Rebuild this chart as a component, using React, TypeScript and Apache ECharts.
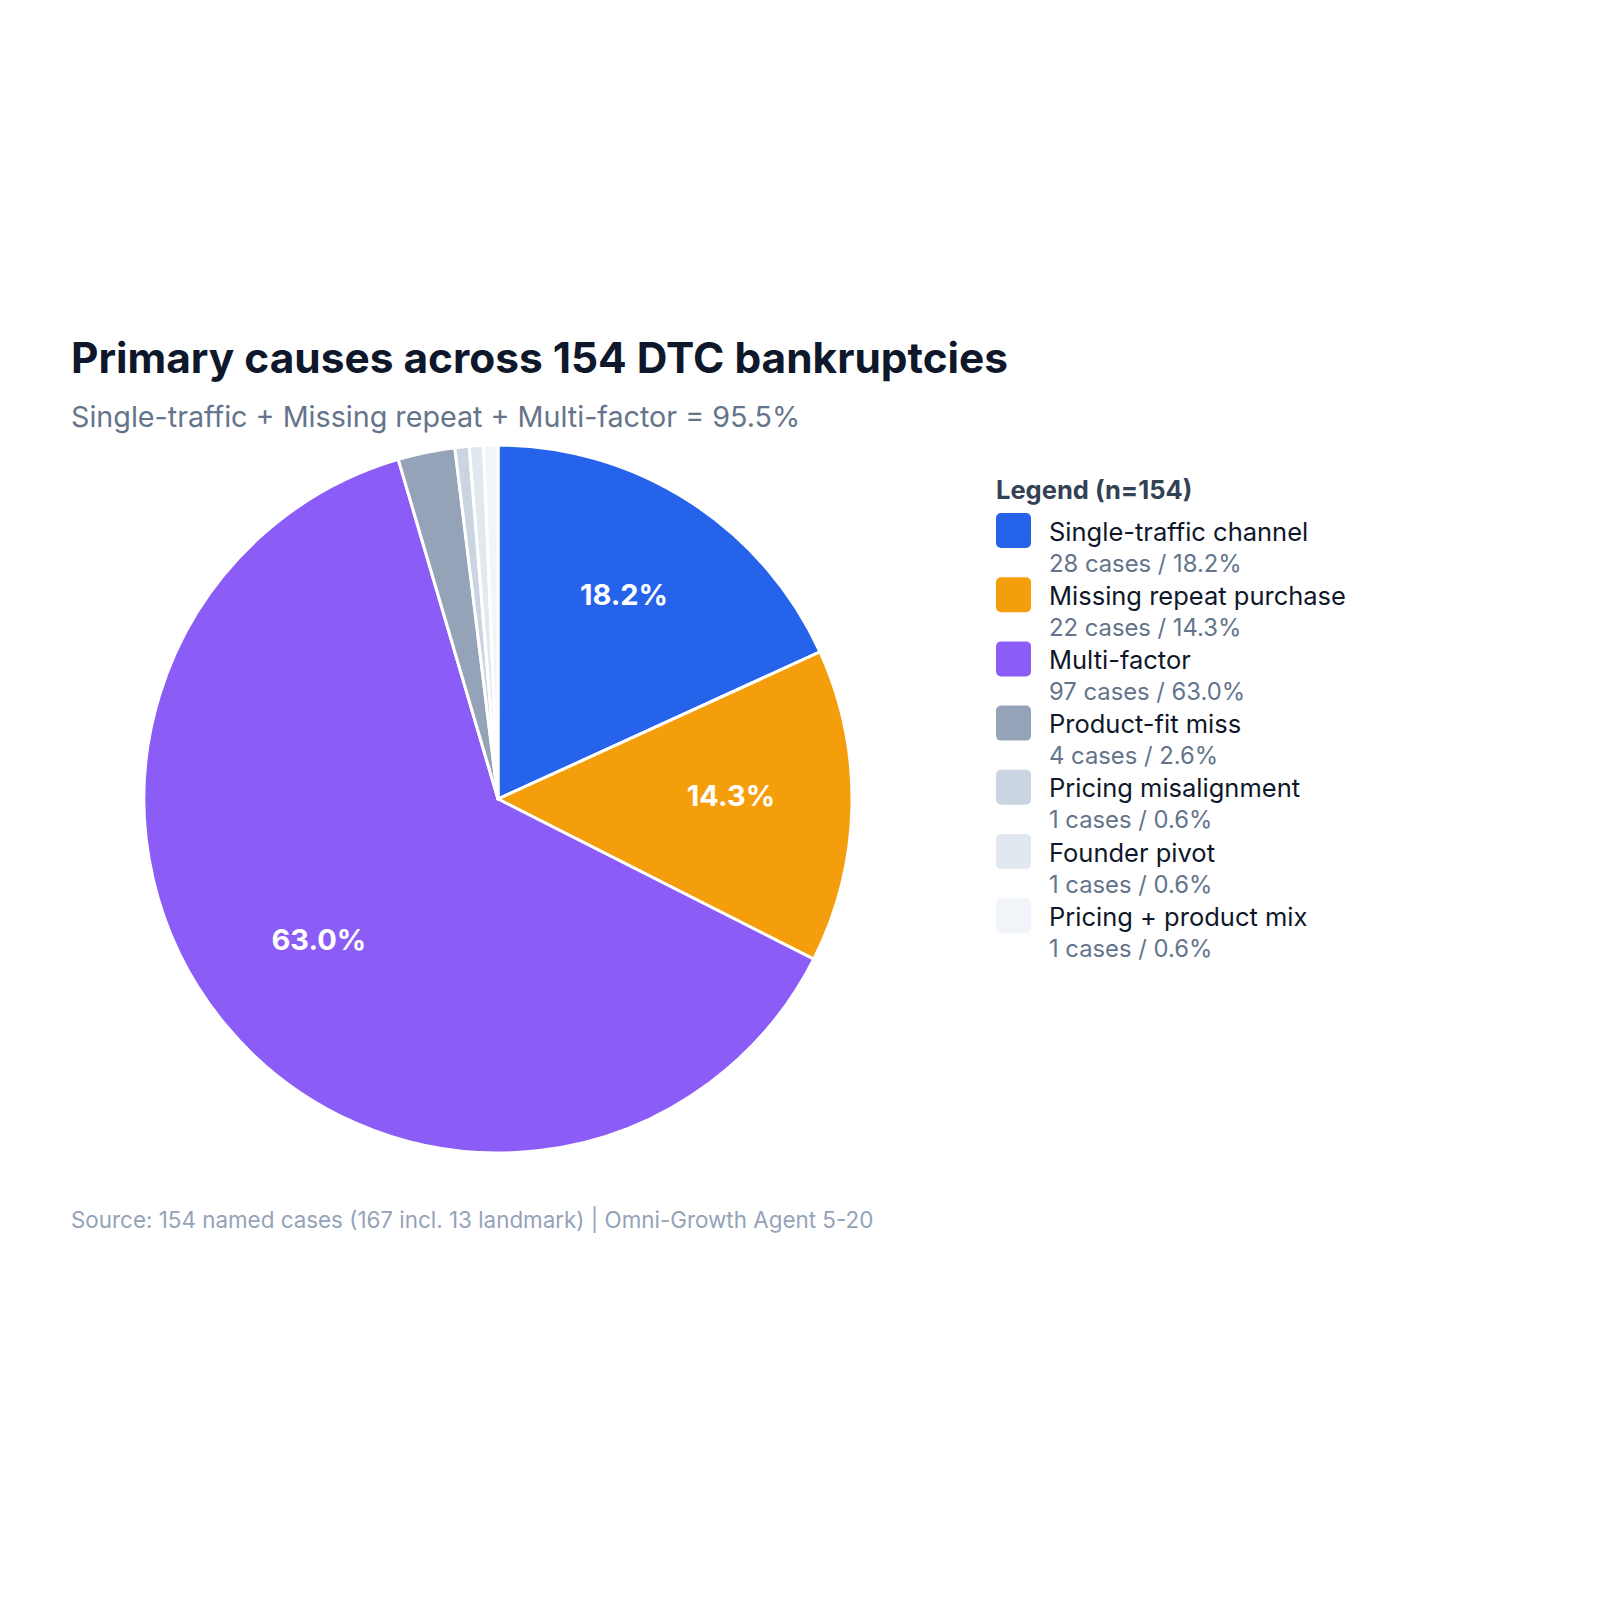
import React, { useEffect, useRef } from "react";
import * as echarts from "echarts";

const categories = [
  "Single-traffic channel",
  "Missing repeat purchase",
  "Multi-factor",
  "Product-fit miss",
  "Pricing misalignment",
  "Founder pivot",
  "Pricing + product mix",
];
const caseCounts = [28, 22, 97, 4, 1, 1, 1];
const colors = ["#2563eb", "#f59e0b", "#8b5cf6", "#94a3b8", "#cbd5e1", "#e2e8f0", "#f1f5f9"];
const totalCases = 154;

const titleText = "Primary causes across 154 DTC bankruptcies";
const subtitleText = "Single-traffic + Missing repeat + Multi-factor = 95.5%";
const legendTitle = "Legend (n=154)";
const sourceText = "Source: 154 named cases (167 incl. 13 landmark) | Omni-Growth Agent 5-20";

const FONT = "Inter, 'Noto Sans', sans-serif";

export default function App() {
  const ref = useRef<HTMLDivElement>(null);
  useEffect(() => {
    document.body.style.margin = "0";
    if (!ref.current) return;
    const chart = echarts.init(ref.current, undefined, { renderer: "svg" });
    const pct = (v: number) => ((v / totalCases) * 100).toFixed(1);

    const legendGraphics: any[] = [
      {
        type: "text",
        x: 996,
        y: 489,
        style: {
          text: legendTitle,
          font: `700 25.5px ${FONT}`,
          fill: "#334155",
          verticalAlign: "middle",
          align: "left",
        },
      },
    ];
    categories.forEach((c, i) => {
      const y = 513 + 64.2 * i;
      legendGraphics.push({
        type: "rect",
        shape: { x: 996, y, width: 35, height: 35, r: 5 },
        style: { fill: colors[i] },
      });
      legendGraphics.push({
        type: "text",
        x: 1049,
        y: y + 18,
        style: {
          text: c,
          font: `400 25.5px ${FONT}`,
          fill: "#0f172a",
          verticalAlign: "middle",
          align: "left",
        },
      });
      legendGraphics.push({
        type: "text",
        x: 1049,
        y: y + 50,
        style: {
          text: `${caseCounts[i]} cases / ${pct(caseCounts[i])}%`,
          font: `400 23.8px ${FONT}`,
          fill: "#64748b",
          verticalAlign: "middle",
          align: "left",
        },
      });
    });

    const data = categories.map((c, i) => ({
      name: c,
      value: caseCounts[i],
      itemStyle: { color: colors[i] },
    }));

    chart.setOption({
      animation: false,
      backgroundColor: "#ffffff",
      title: {
        text: titleText,
        subtext: subtitleText,
        left: 71,
        top: 333,
        padding: 0,
        itemGap: 19,
        textStyle: {
          fontFamily: FONT,
          fontSize: 42.4,
          fontWeight: 700,
          color: "#0f172a",
          lineHeight: 48,
        },
        subtextStyle: {
          fontFamily: FONT,
          fontSize: 28.7,
          color: "#64748b",
          lineHeight: 32,
        },
      },
      series: [
        {
          type: "pie",
          center: [498, 799],
          radius: [0, 354],
          startAngle: 90,
          clockwise: true,
          avoidLabelOverlap: false,
          label: { show: false },
          labelLine: { show: false },
          itemStyle: { borderColor: "#ffffff", borderWidth: 3 },
          emphasis: { disabled: true },
          data,
        },
        {
          type: "pie",
          center: [498, 799],
          radius: [106, 354],
          startAngle: 90,
          clockwise: true,
          silent: true,
          avoidLabelOverlap: false,
          itemStyle: { color: "rgba(0,0,0,0)" },
          labelLine: { show: false },
          label: {
            show: true,
            position: "inside",
            offset: [0, -8],
            fontFamily: FONT,
            fontSize: 29,
            fontWeight: 700,
            color: "#ffffff",
            formatter: (p: any) => (p.value / totalCases >= 0.05 ? `${pct(p.value)}%` : ""),
          },
          emphasis: { disabled: true },
          data: categories.map((c, i) => ({ name: c, value: caseCounts[i] })),
        },
      ],
      graphic: [
        ...legendGraphics,
        {
          type: "text",
          x: 71,
          y: 1219,
          style: {
            text: sourceText,
            font: `400 22.4px ${FONT}`,
            fill: "#94a3b8",
            verticalAlign: "middle",
            align: "left",
          },
        },
      ],
    });
    return () => chart.dispose();
  }, []);
  return <div ref={ref} style={{ width: 1600, height: 1600 }} />;
}
